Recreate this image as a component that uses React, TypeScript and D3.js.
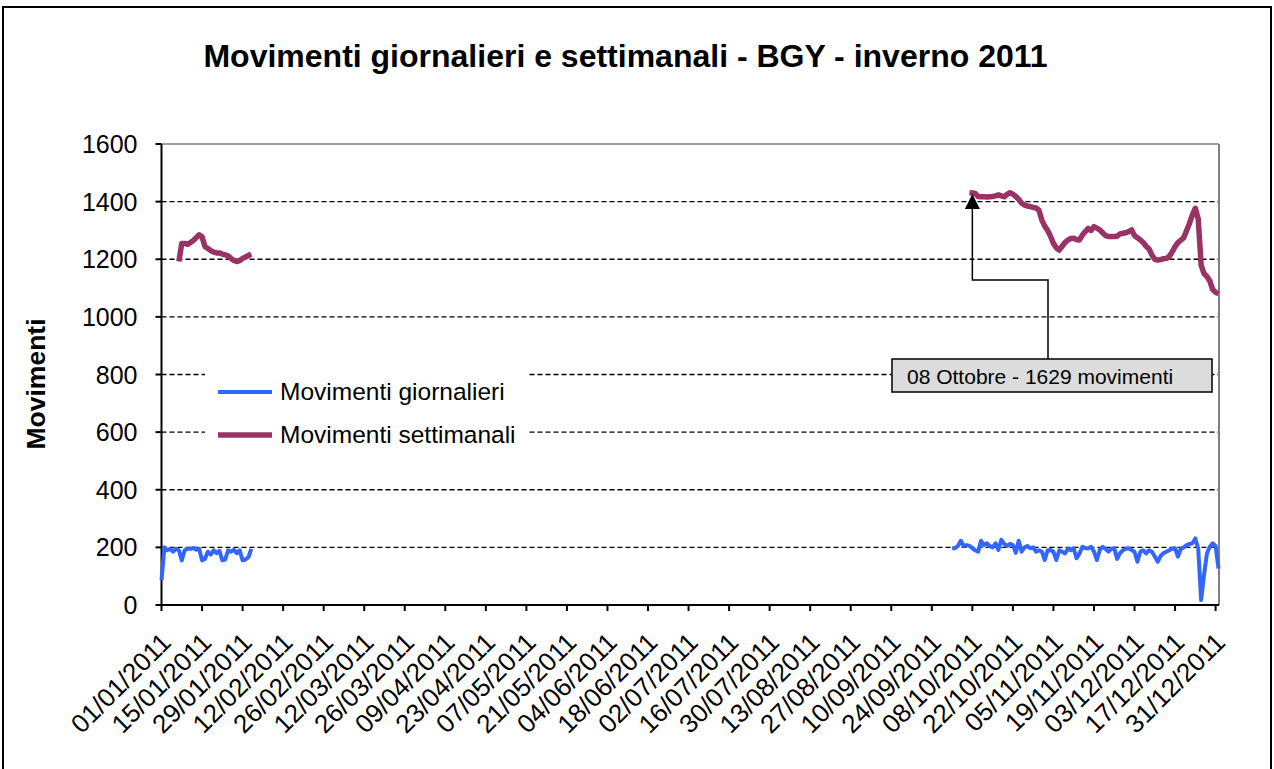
import React from "react";
import * as d3 from "d3";

const yTicks = [0, 200, 400, 600, 800, 1000, 1200, 1400, 1600];
const tickLabels = [
  "01/01/2011", "15/01/2011", "29/01/2011", "12/02/2011", "26/02/2011", "12/03/2011",
  "26/03/2011", "09/04/2011", "23/04/2011", "07/05/2011", "21/05/2011", "04/06/2011",
  "18/06/2011", "02/07/2011", "16/07/2011", "30/07/2011", "13/08/2011", "27/08/2011",
  "10/09/2011", "24/09/2011", "08/10/2011", "22/10/2011", "05/11/2011", "19/11/2011",
  "03/12/2011", "17/12/2011", "31/12/2011",
];

const dailyJanStart = "01/01/2011";
const dailyJan = [85, 200, 190, 195, 185, 195, 190, 155, 190, 195, 195, 198, 192, 195, 155, 160, 185, 175, 190, 180, 188, 155, 158, 190, 185, 192, 180, 190, 155, 158, 165, 195];
const dailyOctStart = "01/10/2011";
const dailyOct = [
  197, 197, 205, 223, 205, 208, 205, 197, 190, 185,
  223, 208, 214, 205, 200, 214, 191, 226, 212, 205,
  212, 208, 181, 223, 185, 200, 205, 197, 200, 185,
  190, 185, 156, 190, 191, 185, 156, 190, 185, 179,
  195, 190, 197, 162, 179, 202, 197, 197, 202, 185,
  156, 191, 202, 195, 185, 195, 197, 160, 180, 190,
  195, 197, 191, 185, 150, 185, 190, 179, 190, 185,
  168, 150, 170, 180, 185, 190, 195, 197, 168, 195,
  200, 208, 212, 214, 231, 195, 17, 104, 179, 202,
  214, 205, 127,
];
const weeklyJanStart = "07/01/2011";
const weeklyJan = [1192, 1255, 1255, 1252, 1258, 1265, 1275, 1285, 1278, 1244, 1238, 1230, 1225, 1222, 1222, 1218, 1215, 1212, 1203, 1196, 1192, 1195, 1203, 1208, 1213, 1218];
const weeklyOctStart = "07/10/2011";
const weeklyOct = [
  1431, 1430, 1428, 1418, 1417, 1417, 1416, 1417, 1418, 1420,
  1423, 1420, 1417, 1425, 1431, 1426, 1418, 1408, 1395, 1388,
  1385, 1383, 1380, 1378, 1370, 1336, 1315, 1300, 1280, 1255,
  1240, 1232, 1245, 1258, 1267, 1272, 1273, 1268, 1267, 1284,
  1296, 1307, 1300, 1313, 1308, 1302, 1292, 1282, 1279, 1279,
  1279, 1280, 1288, 1290, 1292, 1296, 1302, 1282, 1275, 1267,
  1258, 1245, 1236, 1215, 1200, 1197, 1199, 1202, 1203, 1210,
  1225, 1244, 1258, 1266, 1275, 1300, 1325, 1355, 1377, 1340,
  1180, 1150, 1140, 1125, 1095, 1085, 1080,
];

const annotationDate = "08/10/2011";
const annotationValue = 1430;
const annotationText = "08 Ottobre - 1629 movimenti";
const title = "Movimenti giornalieri e settimanali - BGY - inverno 2011";
const yTitle = "Movimenti";
const seriesNames = ["Movimenti giornalieri", "Movimenti settimanali"];

const parse = d3.utcParse("%d/%m/%Y");
const FONT = "'Liberation Sans', Arial, Helvetica, sans-serif";
const BLUE = "#3366FF";
const PURPLE = "#993366";

function toPoints(start: string, vals: number[]) {
  const s = parse(start) as Date;
  return vals.map((v, i) => ({ d: d3.utcDay.offset(s, i), v }));
}

export default function App() {
  const left = 161.5, right = 1219, top = 144, bottom = 605;
  const x = d3.scaleUtc()
    .domain([parse("01/01/2011") as Date, parse("01/01/2012") as Date])
    .range([left, 1218.5]);
  const y = d3.scaleLinear().domain([0, 1600]).range([bottom, top]);
  const line = d3.line<{ d: Date; v: number }>().x((p) => x(p.d)).y((p) => y(p.v));

  const daily = [toPoints(dailyJanStart, dailyJan), toPoints(dailyOctStart, dailyOct)];
  const weekly = [toPoints(weeklyJanStart, weeklyJan), toPoints(weeklyOctStart, weeklyOct)];

  const ax = x(parse(annotationDate) as Date);
  const ay = y(annotationValue);

  return (
    <svg width={1274} height={769} style={{ position: "absolute", left: 0, top: 0, background: "#fff" }} fontFamily={FONT}>
      <rect x={0} y={0} width={1274} height={769} fill="#fff" />
      <rect x={3} y={7} width={1268} height={775} fill="none" stroke="#000" strokeWidth={2} />
      <text x={625.5} y={67} textAnchor="middle" fontSize={32} fontWeight="bold">{title}</text>

      {/* gridlines */}
      {yTicks.filter((t) => t > 0 && t < 1600).map((t) => (
        <line key={t} x1={left} x2={right} y1={y(t)} y2={y(t)} stroke="#000" strokeWidth={1.3} strokeDasharray="5,3" />
      ))}
      {/* plot border */}
      <line x1={left} x2={right} y1={top} y2={top} stroke="#808080" strokeWidth={1.5} />
      <line x1={right} x2={right} y1={top} y2={bottom} stroke="#808080" strokeWidth={2} />
      {/* axes */}
      <line x1={left} x2={left} y1={top} y2={bottom} stroke="#000" strokeWidth={2} />
      <line x1={left} x2={right} y1={bottom} y2={bottom} stroke="#000" strokeWidth={2} />
      {yTicks.map((t) => (
        <g key={t}>
          <line x1={left - 6} x2={left} y1={y(t)} y2={y(t)} stroke="#000" strokeWidth={2} />
          <text x={137.5} y={y(t)} dy="0.36em" textAnchor="end" fontSize={25}>{t}</text>
        </g>
      ))}
      {tickLabels.map((l) => {
        const tx = x(parse(l) as Date);
        return (
          <g key={l}>
            <line x1={tx} x2={tx} y1={bottom} y2={bottom + 6} stroke="#000" strokeWidth={2} />
            <text transform={`translate(${tx + 11},${644}) rotate(-45)`} textAnchor="end" fontSize={26}>{l}</text>
          </g>
        );
      })}
      <text transform={`translate(45,384) rotate(-90)`} textAnchor="middle" fontSize={26.5} fontWeight="bold">{yTitle}</text>

      {/* series */}
      {daily.map((seg, i) => (
        <path key={"d" + i} d={line(seg) || ""} fill="none" stroke={BLUE} strokeWidth={4} strokeLinejoin="round" />
      ))}
      {weekly.map((seg, i) => (
        <path key={"w" + i} d={line(seg) || ""} fill="none" stroke={PURPLE} strokeWidth={5.5} strokeLinejoin="round" />
      ))}

      {/* legend */}
      <rect x={205} y={366} width={323} height={88} fill="#fff" />
      <line x1={218} x2={272} y1={392} y2={392} stroke={BLUE} strokeWidth={4} />
      <text x={280} y={400} fontSize={24.5}>{seriesNames[0]}</text>
      <line x1={218} x2={272} y1={435} y2={435} stroke={PURPLE} strokeWidth={5.5} />
      <text x={280} y={443} fontSize={24.5}>{seriesNames[1]}</text>

      {/* annotation */}
      <polyline points={`${1048},359 ${1048},280 ${ax},280 ${ax},${ay + 14}`} fill="none" stroke="#000" strokeWidth={1.5} />
      <polygon points={`${ax},${ay + 1} ${ax - 7.5},${ay + 16} ${ax + 7.5},${ay + 16}`} fill="#000" />
      <rect x={892} y={359} width={320} height={33} fill="#dcdcdc" stroke="#000" strokeWidth={1.5} />
      <text x={907} y={384} fontSize={21}>{annotationText}</text>
    </svg>
  );
}
